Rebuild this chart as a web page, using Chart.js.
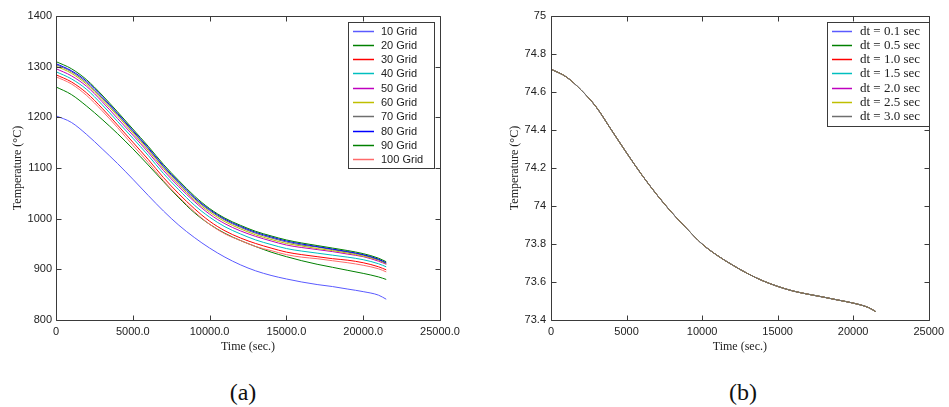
<!DOCTYPE html>
<html>
<head>
<meta charset="utf-8">
<script src="https://cdn.jsdelivr.net/npm/chart.js@4.4.0/dist/chart.umd.min.js"></script>
<style>
  body { margin: 0; background: #fff; width: 949px; height: 407px; position: relative; overflow: hidden; }
  canvas { position: absolute; top: 0; }
  #chartA { left: 0; }
  #chartB { left: 475px; }
  .caption { position: absolute; top: 377px; width: 100px; text-align: center; font: 24px "Liberation Serif", "Times New Roman", serif; line-height: 30px; color: #111; }
</style>
</head>
<body>
<canvas id="chartA" width="475" height="360"></canvas>
<canvas id="chartB" width="474" height="360"></canvas>
<div class="caption" style="left:193px">(a)</div>
<div class="caption" style="left:693px">(b)</div>
<script>
// time axis (sec.) shared by both plots
const time = [0, 1000, 2000, 3000, 4000, 5000, 6000, 7000, 8000, 9000, 10000, 11000,
              12000, 13000, 14000, 15000, 16000, 17000, 18000, 19000, 20000, 21000, 21500];

// (a) temperature for each grid size
const grid10  = [1203, 1190, 1166, 1138, 1109, 1078, 1046, 1015, 987, 963, 942, 924, 909, 897, 888, 881, 875, 870, 866, 861, 856, 849, 841];
const grid20  = [1260, 1245, 1222, 1196, 1168, 1138, 1106, 1073, 1041, 1012, 989, 971, 957, 945, 934, 925, 917, 910, 904, 898, 892, 885, 880];
const grid30  = [1284, 1270, 1248, 1218, 1185, 1151, 1117, 1081, 1049, 1020, 995, 976, 962, 951, 942, 934, 929, 925, 921, 918, 913, 905, 899];
const grid40  = [1290, 1276, 1255, 1225, 1192, 1159, 1125, 1089, 1057, 1027, 1003, 984, 970, 958, 949, 941, 936, 932, 928, 924, 919, 911, 905];
const grid50  = [1296, 1282, 1261, 1231, 1198, 1165, 1131, 1095, 1063, 1034, 1009, 990, 976, 965, 956, 948, 943, 939, 935, 930, 925, 916, 910];
const grid60  = [1301, 1287, 1265, 1235, 1203, 1169, 1135, 1099, 1067, 1037, 1013, 994, 980, 968, 959, 951, 946, 941, 937, 932, 926, 918, 911];
const grid70  = [1304, 1290, 1268, 1238, 1206, 1172, 1138, 1102, 1070, 1040, 1016, 997, 983, 971, 962, 954, 948, 944, 939, 934, 928, 919, 912];
const grid80  = [1306, 1292, 1271, 1241, 1208, 1174, 1140, 1104, 1072, 1042, 1018, 999, 985, 973, 964, 956, 950, 945, 940, 935, 929, 920, 913];
const grid90  = [1310, 1296, 1274, 1244, 1211, 1177, 1143, 1107, 1075, 1045, 1020, 1001, 987, 975, 966, 958, 952, 947, 942, 937, 931, 922, 915];
const grid100 = [1280, 1266, 1243, 1213, 1180, 1145, 1111, 1075, 1043, 1014, 989, 970, 957, 945, 937, 929, 924, 921, 917, 913, 908, 901, 895];
const gridLabels = ['10 Grid', '20 Grid', '30 Grid', '40 Grid', '50 Grid', '60 Grid', '70 Grid', '80 Grid', '90 Grid', '100 Grid'];
const gridSeries = [grid10, grid20, grid30, grid40, grid50, grid60, grid70, grid80, grid90, grid100];

// (b) temperature for each time step (all curves coincide)
const tempDt = [74.72, 74.68, 74.61, 74.52, 74.40, 74.28, 74.165, 74.06, 73.965, 73.88, 73.80, 73.74,
                73.69, 73.645, 73.607, 73.577, 73.553, 73.536, 73.521, 73.505, 73.489, 73.466, 73.444];
const dtLabels = ['dt = 0.1 sec', 'dt = 0.5 sec', 'dt = 1.0 sec', 'dt = 1.5 sec', 'dt = 2.0 sec', 'dt = 2.5 sec', 'dt = 3.0 sec'];

// ticks
const xTicks = [0, 5000, 10000, 15000, 20000, 25000];
const xTickLabelsA = ['0', '5000.0', '10000.0', '15000.0', '20000.0', '25000.0'];
const xTickLabelsB = ['0', '5000', '10000', '15000', '20000', '25000'];
const yTicksA = [800, 900, 1000, 1100, 1200, 1300, 1400];
const yTicksB = [73.4, 73.6, 73.8, 74.0, 74.2, 74.4, 74.6, 74.8, 75.0];
const yTickLabelsB = ['73.4', '73.6', '73.8', '74', '74.2', '74.4', '74.6', '74.8', '75'];

const lineColors = ['#5a5aff', '#008000', '#ff0000', '#00bfbf', '#bf00bf', '#bfbf00', '#6e6e6e', '#0000ff', '#008000', '#ff6a6a'];

// box with inward ticks on all four sides (matlab style)
const frameTicks = {
    id: 'frameTicks',
    afterDatasetsDraw(chart) {
        const { ctx, chartArea: a, scales: { x, y } } = chart;
        const L = Math.round(a.left) + 0.5, R = Math.round(a.right) + 0.5;
        const T = Math.round(a.top) + 0.5, B = Math.round(a.bottom) + 0.5;
        ctx.save();
        ctx.strokeStyle = '#3a3a3a';
        ctx.lineWidth = 1;
        ctx.beginPath();
        ctx.rect(L, T, R - L, B - T);
        x.ticks.forEach(t => {
            const px = Math.round(x.getPixelForValue(t.value)) + 0.5;
            ctx.moveTo(px, B); ctx.lineTo(px, B - 5);
            ctx.moveTo(px, T); ctx.lineTo(px, T + 5);
        });
        y.ticks.forEach(t => {
            const py = Math.round(y.getPixelForValue(t.value)) + 0.5;
            ctx.moveTo(L, py); ctx.lineTo(L + 5, py);
            ctx.moveTo(R, py); ctx.lineTo(R - 5, py);
        });
        ctx.stroke();
        ctx.restore();
    }
};

// legend drawn as a boxed list inside the plot
const boxLegend = {
    id: 'boxLegend',
    afterDraw(chart, args, o) {
        const ctx = chart.ctx;
        ctx.save();
        ctx.fillStyle = '#fff';
        ctx.fillRect(o.left, o.top, o.width, o.height);
        ctx.strokeStyle = '#3a3a3a';
        ctx.lineWidth = 1;
        ctx.strokeRect(o.left + 0.5, o.top + 0.5, o.width, o.height);
        ctx.font = o.font;
        ctx.textBaseline = 'middle';
        chart.data.datasets.forEach((ds, i) => {
            const yy = Math.round(o.top + o.first + i * o.gap) + 0.5;
            ctx.strokeStyle = ds.borderColor;
            ctx.lineWidth = 1.5;
            ctx.beginPath();
            ctx.moveTo(o.left + o.lineFrom, yy);
            ctx.lineTo(o.left + o.lineTo, yy);
            ctx.stroke();
            ctx.fillStyle = '#222';
            ctx.fillText(ds.label, o.left + o.textX, yy);
        });
        ctx.restore();
    }
};

function axis(ticksArr, labels, size, title, titlePad, pad) {
    return {
        type: 'linear',
        min: ticksArr[0],
        max: ticksArr[ticksArr.length - 1],
        afterBuildTicks: s => { s.ticks = ticksArr.map(v => ({ value: v })); },
        afterFit: s => { if (s.isHorizontal()) s.height = size; else s.width = size; },
        grid: { display: false, drawTicks: false },
        border: { display: false },
        ticks: {
            autoSkip: false, maxRotation: 0, padding: pad, color: '#222',
            font: { family: '"Liberation Sans", Arial, sans-serif', size: 11 },
            callback: (v, i) => labels[i]
        },
        title: {
            display: true, text: title, color: '#222', padding: titlePad,
            font: { family: '"Liberation Serif", "Times New Roman", serif', size: 12 }
        }
    };
}

function makeDatasets(seriesList, labels) {
    return seriesList.map((vals, i) => ({
        label: labels[i],
        data: time.map((t, k) => ({ x: t, y: vals[k] })),
        borderColor: lineColors[i],
        borderWidth: 1,
        pointRadius: 0,
        cubicInterpolationMode: 'monotone',
        fill: false,
        order: seriesList.length - i
    }));
}

new Chart(document.getElementById('chartA'), {
    type: 'line',
    data: { datasets: makeDatasets(gridSeries, gridLabels) },
    options: {
        responsive: false,
        animation: false,
        layout: { autoPadding: false, padding: { top: 16, right: 35, left: 0, bottom: 0 } },
        scales: {
            x: axis(xTicks, xTickLabelsA, 40, 'Time (sec.)', { top: 0, bottom: 6 }, 5),
            y: axis(yTicksA, yTicksA.map(String), 56, 'Temperature (°C)', { top: 11, bottom: 0 }, 4)
        },
        plugins: {
            legend: { display: false },
            tooltip: { enabled: false },
            boxLegend: { left: 348, top: 22, width: 86, height: 146, first: 8.7, gap: 14.26,
                         lineFrom: 5, lineTo: 26, textX: 33, font: '11px "Liberation Sans", Arial, sans-serif' }
        }
    },
    plugins: [frameTicks, boxLegend]
});

new Chart(document.getElementById('chartB'), {
    type: 'line',
    data: { datasets: makeDatasets(dtLabels.map(() => tempDt), dtLabels) },
    options: {
        responsive: false,
        animation: false,
        layout: { autoPadding: false, padding: { top: 16, right: 14, left: 0, bottom: 0 } },
        scales: {
            x: axis(xTicks, xTickLabelsB, 40, 'Time (sec.)', { top: 0, bottom: 6 }, 5),
            y: axis(yTicksB, yTickLabelsB, 76, 'Temperature (°C)', { top: 33, bottom: 0 }, 5)
        },
        plugins: {
            legend: { display: false },
            tooltip: { enabled: false },
            boxLegend: { left: 352, top: 22, width: 102, height: 104, first: 8.7, gap: 14.2,
                         lineFrom: 5, lineTo: 25, textX: 33, font: '13px "Liberation Serif", "Times New Roman", serif' }
        }
    },
    plugins: [frameTicks, boxLegend]
});
</script>
</body>
</html>
